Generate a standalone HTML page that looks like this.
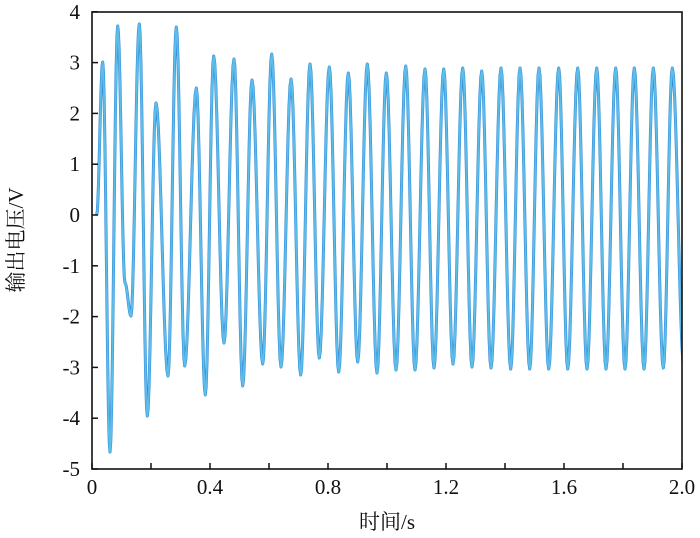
<!DOCTYPE html>
<html><head><meta charset="utf-8"><style>
html,body{margin:0;padding:0;background:#fff;}
svg{display:block;}
text{font-family:"Liberation Serif","Noto Serif CJK SC",serif;font-size:21px;fill:#111;}
</style></head><body>
<svg id="s" width="700" height="538" viewBox="0 0 700 538" xmlns="http://www.w3.org/2000/svg">
<defs><clipPath id="c"><rect x="92" y="12" width="590" height="457"/></clipPath></defs>
<g clip-path="url(#c)">
<path id="p1" fill="none" stroke="#2f86d6" stroke-width="3" stroke-linejoin="round"/>
<path id="p2" fill="none" stroke="#5cbde9" stroke-width="2" stroke-linejoin="round"/>
</g>
<rect x="92" y="12" width="590" height="457" fill="none" stroke="#111" stroke-width="1.6"/>
<g id="ticks" stroke="#111" stroke-width="1.5"></g>
<g id="yl" text-anchor="end"></g>
<g id="xl" text-anchor="middle"></g>
<text x="387" y="529" text-anchor="middle">时间/s</text>
<text transform="translate(23,240) rotate(-90)" text-anchor="middle">输出电压/V</text>
</svg>
<script>
var P=[[96.7,215],[102.7,62],[110,452],[117.7,26],[125,283],[131,316],[139.3,24],[147.3,416],[156,103],[168,376],[176.3,27],[184.7,366],[196.3,88],[205.3,395],[213.7,56],[224,343],[234,59],[242.7,386],[252,80],[262.7,364],[271.7,54],[281,367],[291,79],[300.7,375],[310,64],[319.3,358],[329.3,67],[338.7,372],[348.3,73],[357.7,362],[367.3,64],[377,373],[386.3,73],[396,370],[405.7,66],[415,370],[425,69],[434,368],[443.7,69],[453,364],[462.7,68],[472,367],[481.7,71],[491,368],[501,68],[510.7,369],[520,68],[529.7,369],[539,68],[548.7,369],[558.7,68],[567.7,369],[577.7,68],[587,369],[596.7,68],[606,369],[615.7,68],[625,369],[634.3,68],[644,369],[653.3,68],[663.3,368],[672.3,68],[684,369]];
var d="M"+P[0][0]+","+P[0][1];
for(var i=0;i<P.length-1;i++){var a=P[i],b=P[i+1];for(var k=1;k<=10;k++){var t=k/10;var f=(1-Math.cos(Math.PI*t))/2;d+=" L"+(a[0]+(b[0]-a[0])*t).toFixed(2)+","+(a[1]+(b[1]-a[1])*f).toFixed(2);}}
document.getElementById('p1').setAttribute('d',d);
document.getElementById('p2').setAttribute('d',d);
var ns="http://www.w3.org/2000/svg",tk=document.getElementById('ticks'),yl=document.getElementById('yl'),xl=document.getElementById('xl');
function el(n,at,p,txt){var e=document.createElementNS(ns,n);for(var k in at)e.setAttribute(k,at[k]);if(txt!==undefined)e.textContent=txt;p.appendChild(e);}
for(var v=-5;v<=4;v++){var y=215-v*50.8;el('line',{x1:92,x2:98,y1:y,y2:y},tk);el('text',{x:80,y:y+7},yl,v);}
for(var i=0;i<=10;i++){var x=92+i*59;el('line',{x1:x,x2:x,y1:469,y2:463},tk);if(i%2==0)el('text',{x:x,y:494},xl,i==0?'0':(i*0.2).toFixed(1));}
</script>
</body></html>
